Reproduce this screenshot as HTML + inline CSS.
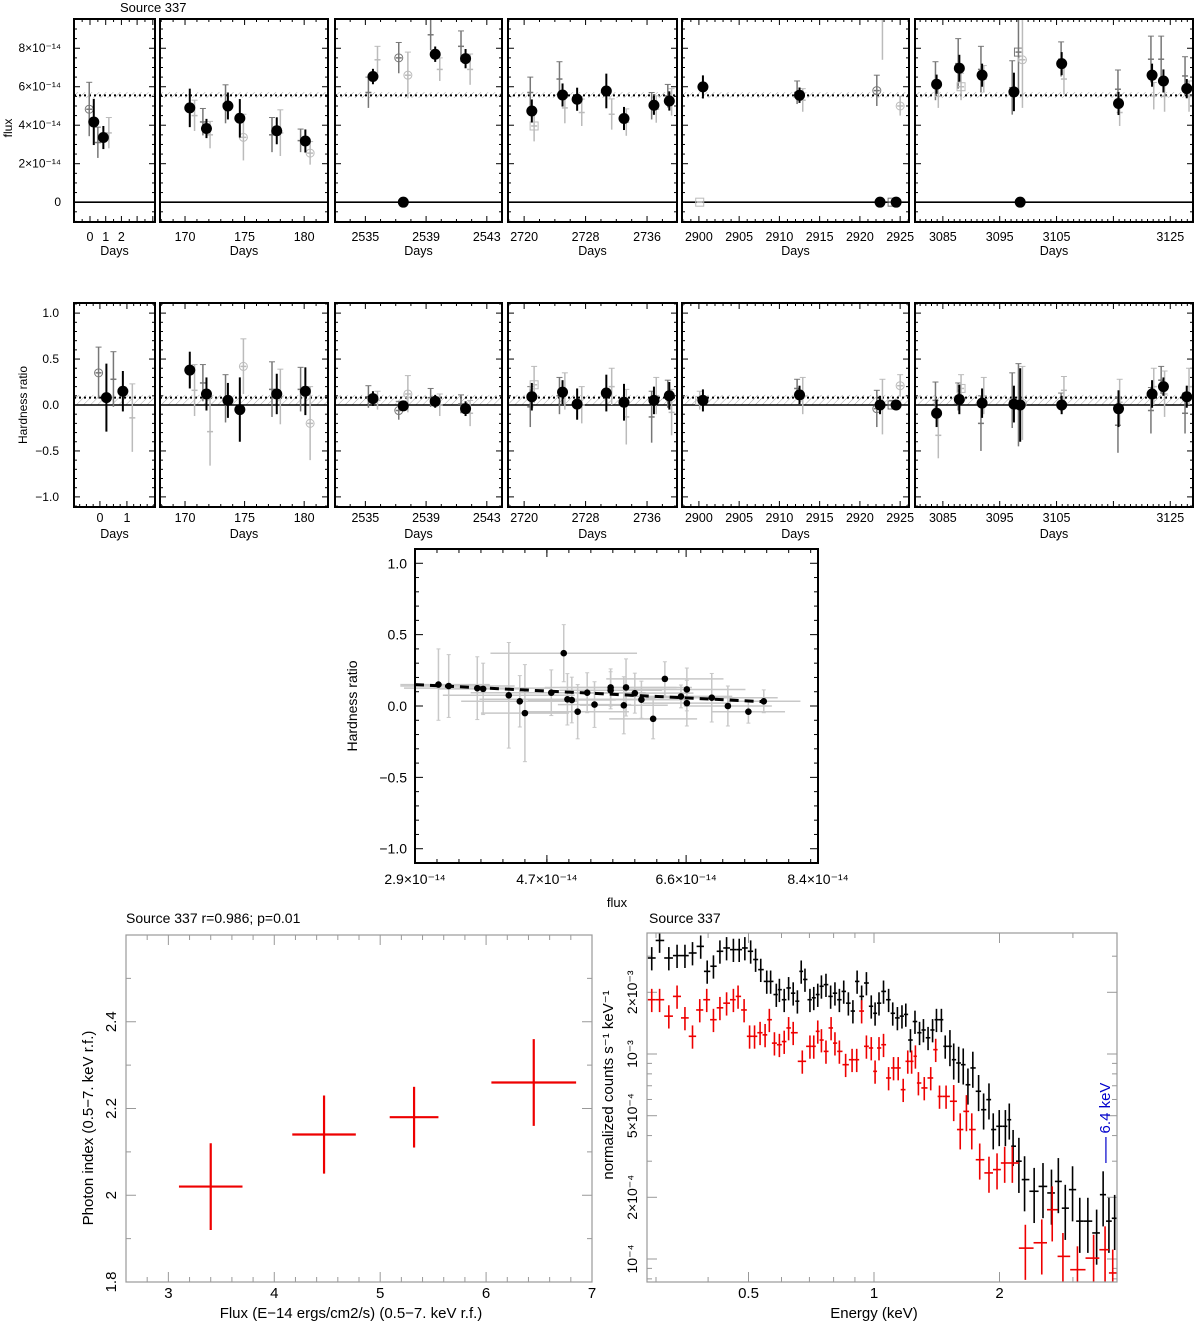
<!DOCTYPE html>
<html><head><meta charset="utf-8"><title>Source 337</title>
<style>html,body{margin:0;padding:0;background:#fff}svg{display:block;font-family:"Liberation Sans",sans-serif}</style>
</head><body>
<svg id="fig" xmlns="http://www.w3.org/2000/svg" width="1200" height="1327" viewBox="0 0 1200 1327">
<defs>
<pattern id="hatch" patternUnits="userSpaceOnUse" width="5" height="5" patternTransform="rotate(45)"><line x1="0" y1="0" x2="0" y2="5" stroke="#aaa" stroke-width="1"/></pattern>
</defs>
<text x="120" y="12" font-size="13">Source 337</text>
<text transform="translate(12,128) rotate(-90)" font-size="12" text-anchor="middle">flux</text>
<text transform="translate(27,405) rotate(-90)" font-size="12" text-anchor="middle">Hardness ratio</text>
</svg>
<script>
// ---------- light curve data (flux in 1e-14 units) ----------
const blackDays = [[0.24,0.85],[170.4,171.8,173.6,174.6,177.7,180.1],[2535.5,2537.5,2539.6,2541.6],[2721.0,2725.0,2726.9,2730.7,2733.0,2736.9,2738.9],[2900.5,2912.5,2922.5,2924.5],[3083.9,3087.9,3091.9,3097.5,3098.6,3105.9,3115.9,3121.8,3123.8,3127.9]];
const blackFlux = [[4.17,3.36],[4.90,3.83,5.0,4.36,3.71,3.18],[6.53,0,7.69,7.46],[4.74,5.57,5.35,5.78,4.35,5.04,5.26],[5.99,5.56,0,0],[6.13,6.96,6.6,5.73,0,7.2,5.13,6.6,6.3,5.9]];
const blackFluxErr = [[1.2,0.6],[1.0,0.5,0.7,1.0,0.7,0.6],[0.4,0,0.4,0.5],[0.6,0.6,0.6,0.9,0.6,0.5,0.5],[0.6,0.4,0,0],[0.5,0.7,0.6,1.0,0,0.6,0.6,0.6,0.6,0.5]];
const blackHR = [[0.08,0.15],[0.38,0.12,0.05,-0.05,0.12,0.15],[0.07,-0.01,0.04,-0.04],[0.09,0.14,0.01,0.13,0.03,0.05,0.1],[0.05,0.11,0,0],[-0.09,0.06,0.02,0.01,0,0,-0.04,0.12,0.2,0.09]];
const blackHRErr = [[0.37,0.22],[0.2,0.18,0.19,0.35,0.22,0.26],[0.08,0.05,0.07,0.08],[0.15,0.13,0.17,0.2,0.2,0.15,0.15],[0.12,0.1,0.1,0.05],[0.15,0.16,0.16,0.2,0.4,0.1,0.2,0.15,0.1,0.12]];
const grayDays = [[-0.05,0.5,1.2],[170.8,171.5,172.1,173.4,174.9,177.3,178.0,179.7,180.5],[2535.2,2535.8,2537.2,2537.8,2539.3,2539.9,2541.3,2541.9],[2720.8,2721.3,2724.6,2725.3,2727.5,2731.4,2733.3,2736.6,2737.2,2738.7,2739.2],[2900.1,2912.2,2912.9,2922.1,2922.8,2924.0,2925.0],[3083.7,3084.2,3087.7,3088.2,3091.7,3092.2,3097.2,3098.3,3099.0,3105.8,3106.3,3115.8,3116.1,3121.6,3122.1,3123.4,3124.0,3127.6,3128.3]];
const grayFlux = [[4.83,3.1,3.6],[4.5,4.17,3.5,5.1,3.37,3.5,3.6,3.2,2.55],[5.7,7.4,7.5,6.6,8.7,6.9,8.1,6.9],[5.7,3.96,6.4,4.9,4.66,4.57,4.15,5.0,4.83,5.52,5.2],[0,5.7,5.3,5.8,9.5,0,5.0],[6.3,5.5,7.2,6.0,6.9,6.4,5.95,7.8,7.4,7.43,6.4,5.87,4.66,7.43,5.52,7.43,5.5,6.56,5.5]];
const grayFluxErr = [[1.4,0.8,0.8],[0.8,0.7,0.7,1.0,1.2,0.9,1.2,0.6,0.6],[0.8,0.7,0.8,1.2,0.8,0.6,0.8,0.8],[0.8,0.8,0.9,0.8,0.7,0.8,0.7,0.7,0.7,0.6,0.7],[0,0.6,0.6,0.8,2.1,0,0.5],[1.0,0.6,1.3,0.7,1.2,0.7,1.4,2.0,2.5,0.9,0.8,1.0,0.7,1.2,0.7,1.2,0.8,1.0,0.8]];
const grayHR = [[0.35,0.28,-0.14],[0.16,0.24,-0.29,0.07,0.42,0.17,0.09,0.17,-0.2],[0.09,0.05,-0.06,0.12,0.08,0,0.01,-0.09],[-0.02,0.22,0.1,0.15,0.0,0.2,-0.13,-0.13,0.1,0.12,-0.08],[0.05,0.18,0.1,-0.04,-0.02,0,0.21],[0.05,-0.33,0.09,0.18,-0.2,0.1,0.05,0,0.02,0.03,0.16,-0.22,0.03,-0.06,0.2,0.27,0.12,-0.09,0.2]];
const grayHRErr = [[0.28,0.3,0.37],[0.28,0.2,0.37,0.26,0.3,0.3,0.3,0.24,0.4],[0.12,0.1,0.1,0.2,0.1,0.12,0.1,0.14],[0.22,0.2,0.2,0.2,0.2,0.2,0.3,0.28,0.2,0.15,0.25],[0.1,0.1,0.2,0.2,0.3,0.05,0.12],[0.2,0.25,0.15,0.15,0.3,0.2,0.3,0.45,0.4,0.1,0.15,0.3,0.25,0.25,0.2,0.15,0.25,0.22,0.2]];
const grayShade = [[1,1,2],[2,1,2,1,2,1,2,1,2],[1,2,1,2,1,2,1,2],[1,2,1,2,2,2,2,1,2,1,2],[2,1,2,1,2,1,2],[1,2,1,2,1,2,1,1,2,1,2,1,2,1,2,1,2,1,2]];
const grayMarker = [['o','+','+'],['+','+','+','+','o','+','+','+','o'],['+','+','o','o','+','+','+','+'],['+','s','+','+','+','+','+','+','+','+','+'],['s','+','+','o','+','s','o'],['+','+','+','s','+','+','+','s','o','+','+','+','+','+','+','+','+','+','+']];
const fluxMean = [5.55];
const hrMean = [0.08];
const fluxTicks = [0,2,4,6,8];
const fluxTickLabels = ['0','2×10⁻¹⁴','4×10⁻¹⁴','6×10⁻¹⁴','8×10⁻¹⁴'];
const hrTicks = [-1,-0.5,0,0.5,1];
const hrTickLabels = ['−1.0','−0.5','0.0','0.5','1.0'];
const panelMajors = [[0,1,2,3,4],[170,175,180],[2535,2539,2543],[2720,2728,2736],[2900,2905,2910,2915,2920,2925],[3085,3095,3105,3115,3125]];
const panelLabels = [['0','1','2','',''],['170','175','180'],['2535','2539','2543'],['2720','2728','2736'],['2900','2905','2910','2915','2920','2925'],['3085','3095','3105','','3125']];
const hrPanel1Majors = [0,1];

// ---------- HR vs flux scatter ----------
const scatFlux = [3.22,3.36,3.75,3.83,4.18,4.33,4.4,4.76,4.93,4.98,5.04,5.12,5.25,5.35,5.57,5.57,5.75,5.78,5.9,5.99,6.15,6.31,6.53,6.61,6.61,6.95,7.17,7.45,7.66];
const scatHR = [0.15,0.14,0.125,0.12,0.075,0.033,-0.05,0.093,0.37,0.047,0.042,-0.04,0.093,0.01,0.13,0.11,0.005,0.13,0.09,0.044,-0.09,0.19,0.067,0.116,0.02,0.058,0,-0.04,0.033];
const scatXErr = [0.7,0.9,1.0,0.6,0.9,0.8,0.6,1.1,1.0,1.2,0.6,0.7,0.8,0.5,0.9,0.7,0.6,0.9,0.8,0.6,0.6,0.8,0.7,0.8,0.6,0.9,0.6,0.5,0.5];
const scatYErr = [0.25,0.22,0.22,0.18,0.37,0.18,0.34,0.16,0.2,0.18,0.16,0.19,0.14,0.16,0.13,0.13,0.2,0.2,0.14,0.13,0.14,0.12,0.08,0.15,0.16,0.17,0.14,0.08,0.08];
const fitX = [2.9,7.66];
const fitY = [0.15,0.03];
const scatXTicks = [2.9,4.7,6.6,8.4];
const scatXLabels = ['2.9×10⁻¹⁴','4.7×10⁻¹⁴','6.6×10⁻¹⁴','8.4×10⁻¹⁴'];

// ---------- photon index vs flux ----------
const piFlux = [3.4,4.47,5.32,6.45];
const piFluxErr = [0.3,0.3,0.23,0.4];
const piIndex = [2.02,2.14,2.18,2.26];
const piIndexErr = [0.1,0.09,0.07,0.1];
const piXTicks = [3,4,5,6,7];
const piYTicks = [1.8,2,2.2,2.4];
const piYLabels = ['1.8','2','2.2','2.4'];

// ---------- spectrum (counts in 1e-3 units) ----------
const specEBlack = [0.293,0.306,0.322,0.337,0.352,0.367,0.384,0.398,0.412,0.427,0.443,0.460,0.475,0.490,0.506,0.520,0.535,0.553,0.565,0.583,0.593,0.609,0.624,0.640,0.655,0.669,0.683,0.702,0.717,0.733,0.748,0.767,0.787,0.806,0.826,0.846,0.868,0.890,0.911,0.934,0.959,0.985,1.006,1.028,1.054,1.084,1.109,1.138,1.167,1.192,1.223,1.254,1.286,1.314,1.348,1.382,1.412,1.451,1.482,1.521,1.553,1.596,1.637,1.680,1.726,1.782,1.832,1.887,1.932,1.997,2.066,2.111,2.156,2.226,2.297,2.422,2.543,2.665,2.768,2.876,2.994,3.116,3.258,3.420,3.545,3.660,3.778];
const specCBlack = [2.94,3.58,2.94,3.02,3.02,3.11,3.35,2.53,2.68,3.17,3.29,3.23,3.23,3.29,3.17,2.89,2.58,2.26,2.26,1.95,2.06,1.84,2.10,1.98,1.81,2.53,2.31,1.84,1.88,1.95,2.14,2.18,1.91,1.98,1.84,2.02,1.77,1.62,2.26,1.91,2.22,1.71,1.58,1.77,2.02,1.84,1.58,1.50,1.53,1.56,1.17,1.44,1.27,1.31,1.20,1.31,1.47,1.47,1.09,1.09,0.938,0.904,0.887,0.708,0.855,0.658,0.535,0.599,0.428,0.444,0.444,0.478,0.355,0.300,0.244,0.214,0.226,0.210,0.239,0.177,0.218,0.153,0.153,0.134,0.206,0.153,0.158];
const specERed = [0.293,0.306,0.322,0.337,0.352,0.367,0.382,0.397,0.412,0.427,0.443,0.460,0.472,0.488,0.503,0.517,0.533,0.548,0.561,0.577,0.593,0.609,0.624,0.640,0.673,0.702,0.717,0.733,0.748,0.767,0.789,0.806,0.826,0.855,0.886,0.909,0.934,0.959,0.985,1.006,1.028,1.054,1.084,1.114,1.143,1.175,1.205,1.231,1.257,1.278,1.320,1.368,1.406,1.436,1.489,1.553,1.610,1.666,1.716,1.793,1.887,1.973,2.058,2.147,2.307,2.526,2.676,2.839,3.076,3.363,3.583,3.738];
const specCRed = [1.84,1.84,1.53,1.91,1.50,1.22,1.64,1.84,1.47,1.68,1.77,1.84,1.91,1.64,1.22,1.22,1.27,1.24,1.47,1.13,1.11,1.15,1.34,1.27,0.921,1.09,1.09,1.29,1.17,1.03,1.34,1.13,1.03,0.887,0.938,0.938,1.62,1.09,1.07,0.823,1.07,1.11,0.764,0.855,0.855,0.670,0.921,0.921,0.975,0.722,0.683,0.764,1.05,0.621,0.621,0.588,0.428,0.525,0.428,0.305,0.263,0.273,0.294,0.294,0.113,0.120,0.174,0.103,0.0887,0.101,0.111,0.0855];
const specXTicks = [0.5,1,2];
const specYTicks = [2,1,0.5,0.2,0.1];
const specYLabels = ['2×10⁻³','10⁻³','5×10⁻⁴','2×10⁻⁴','10⁻⁴'];
const lineEnergy = [3.6];

const NS='http://www.w3.org/2000/svg';
const svg=document.getElementById('fig');
function mk(tag,parent){const e=document.createElementNS(NS,tag);(parent||svg).appendChild(e);return e;}
function ln(p,x1,y1,x2,y2,c,w,name,dash){const l=mk('line',p);l.setAttribute('x1',x1);l.setAttribute('y1',y1);l.setAttribute('x2',x2);l.setAttribute('y2',y2);l.setAttribute('stroke',c);l.setAttribute('stroke-width',w);if(dash)l.setAttribute('stroke-dasharray',dash);


return l;}
function tx(p,x,y,s,size,anchor,name,fill,rot){const t=mk('text',p);t.textContent=s;t.setAttribute('font-size',size);t.setAttribute('text-anchor',anchor||'middle');if(fill)t.setAttribute('fill',fill);
if(rot){t.setAttribute('transform','translate('+x+','+y+') rotate(-90)');}else{t.setAttribute('x',x);t.setAttribute('y',y);}


return t;}
function grp(name){const g=mk('g');


return g;}

const boxX=[[74,155],[160,328],[335,502],[508,677],[682,909],[915,1193]];
const domX=[[-1.02,4.14],[167.9,182.0],[2533.0,2544.0],[2717.9,2739.9],[2897.9,2926.1],[3080.1,3129.0]];
const hrDom1=[-0.96,2.04];
const minorStep=[0.5,1,1,2,1,1];
const rows=[{name:'flux',top:19,bot:222,ymin:-1.03,ymax:9.52,ticks:fluxTicks,labels:fluxTickLabels,minor:0.5,vals:blackFlux,errs:blackFluxErr,gv:grayFlux,ge:grayFluxErr,mean:fluxMean[0],band:[5.42,5.72],lab:241,days:255},
{name:'hardness',top:303,bot:507,ymin:-1.11,ymax:1.11,ticks:hrTicks,labels:hrTickLabels,minor:0.1,vals:blackHR,errs:blackHRErr,gv:grayHR,ge:grayHRErr,mean:hrMean[0],band:[0,0.11],lab:522,days:538}];

rows.forEach((r,ri)=>{
 const Y=v=>r.bot-(v-r.ymin)/(r.ymax-r.ymin)*(r.bot-r.top);
 boxX.forEach((bx,pi)=>{
  const g=grp(r.name+'-panel-'+(pi+1));
  let d=domX[pi]; let majors=panelMajors[pi], labs=panelLabels[pi], mstep=minorStep[pi];
  if(ri===1&&pi===0){d=hrDom1;majors=hrPanel1Majors;labs=['0','1'];mstep=0.25;}
  const X=v=>bx[0]+(v-d[0])/(d[1]-d[0])*(bx[1]-bx[0]);
  const br=mk('rect',g);br.setAttribute('x',bx[0]);br.setAttribute('width',bx[1]-bx[0]);br.setAttribute('y',Y(r.band[1]));br.setAttribute('height',Y(r.band[0])-Y(r.band[1]));br.setAttribute('fill','url(#hatch)');
  
  
  ln(g,bx[0],Y(r.mean),bx[1],Y(r.mean),'#000',2,'mean-line','2,3');
  ln(g,bx[0],Y(0),bx[1],Y(0),'#000',1.6,'zero-line');
  for(let v=Math.ceil(r.ymin/r.minor)*r.minor;v<=r.ymax;v+=r.minor){const isMaj=r.ticks.some(t=>Math.abs(t-v)<1e-6);const L=isMaj?6:3;const y=Y(v);
   ln(g,bx[0],y,bx[0]+L,y,'#000',1,'y-tick');ln(g,bx[1],y,bx[1]-L,y,'#000',1,'y-tick');}
  if(pi===0){r.ticks.forEach((t,i)=>tx(g,r.name==='flux'?61:59,Y(t)+4,r.labels[i],12,'end','y-tick-label'));}
  for(let v=Math.ceil(d[0]/mstep)*mstep;v<=d[1];v+=mstep){const isMaj=majors.some(t=>Math.abs(t-v)<1e-6);const L=isMaj?6:3;const x=X(v);
   ln(g,x,r.bot,x,r.bot-L,'#000',1,'x-tick');ln(g,x,r.top,x,r.top+L,'#000',1,'x-tick');}
  majors.forEach((t,i)=>{if(labs[i])tx(g,X(t),r.lab,labs[i],12.5,'middle','x-tick-label');});
  tx(g,(bx[0]+bx[1])/2,r.days,'Days',12.5,'middle','x-axis-title');
  grayDays[pi].forEach((dd,i)=>{const c=grayShade[pi][i]===1?'#777':'#bbb';const x=X(dd);const v=r.gv[pi][i],e=r.ge[pi][i];
   const y=Math.max(r.top,Math.min(r.bot,Y(v)));
   ln(g,x,Math.max(r.top,Y(v+e)),x,Math.min(r.bot,Y(v-e)),c,1.5,'gray-error-bar');
   ln(g,x-3,Math.max(r.top,Y(v+e)),x+3,Math.max(r.top,Y(v+e)),c,1,'gray-error-cap');
   ln(g,x-3,y,x+3,y,c,1.5,'gray-point');
   const m=grayMarker[pi][i];
   if(m==='o'){const ci=mk('circle',g);ci.setAttribute('cx',x);ci.setAttribute('cy',y);ci.setAttribute('r',4);ci.setAttribute('fill','none');ci.setAttribute('stroke',c);
    
    }
   if(m==='s'){const sq=mk('rect',g);sq.setAttribute('x',x-4);sq.setAttribute('y',y-4);sq.setAttribute('width',8);sq.setAttribute('height',8);sq.setAttribute('fill','none');sq.setAttribute('stroke',c);
    
    }
  });
  blackDays[pi].forEach((dd,i)=>{const x=X(dd),v=r.vals[pi][i],e=r.errs[pi][i];
   if(e>0)ln(g,x,Y(v+e),x,Y(v-e),'#000',2,'error-bar');
   const ci=mk('circle',g);ci.setAttribute('cx',x);ci.setAttribute('cy',Y(v));ci.setAttribute('r',5.5);ci.setAttribute('fill','#000');
   
   
  });
  const fr=mk('rect',g);fr.setAttribute('x',bx[0]);fr.setAttribute('y',r.top);fr.setAttribute('width',bx[1]-bx[0]);fr.setAttribute('height',r.bot-r.top);fr.setAttribute('fill','none');fr.setAttribute('stroke','#000');fr.setAttribute('stroke-width',2);
  
  
 });
});

(function(){
 const g=grp('hardness-vs-flux-panel');
 const L=415,R=818,T=549,B=863,xmin=2.9,xmax=8.4,ymin=-1.1,ymax=1.1;
 const X=v=>L+(v-xmin)/(xmax-xmin)*(R-L), Y=v=>B-(v-ymin)/(ymax-ymin)*(B-T);
 scatFlux.forEach((f,i)=>{
  ln(g,X(Math.max(xmin-0.2,f-scatXErr[i])),Y(scatHR[i]),X(Math.min(xmax,f+scatXErr[i])),Y(scatHR[i]),'#c8c8c8',1.5,'x-error-bar');
  ln(g,X(f),Y(scatHR[i]+scatYErr[i]),X(f),Y(scatHR[i]-scatYErr[i]),'#c8c8c8',1.5,'y-error-bar');
  ln(g,X(f)-2,Y(scatHR[i]+scatYErr[i]),X(f)+2,Y(scatHR[i]+scatYErr[i]),'#c8c8c8',1,'error-cap');
  ln(g,X(f)-2,Y(scatHR[i]-scatYErr[i]),X(f)+2,Y(scatHR[i]-scatYErr[i]),'#c8c8c8',1,'error-cap');
 });
 ln(g,X(fitX[0]),Y(fitY[0]),X(fitX[1]),Y(fitY[1]),'#000',3,'fit-line','9,6');
 scatFlux.forEach((f,i)=>{const c=mk('circle',g);c.setAttribute('cx',X(f));c.setAttribute('cy',Y(scatHR[i]));c.setAttribute('r',3.3);c.setAttribute('fill','#000');
  
  });
 for(let v=-1.1;v<=1.1001;v+=0.1){const maj=Math.abs(v*2-Math.round(v*2))<1e-6;ln(g,L,Y(v),L+(maj?8:4),Y(v),'#000',1,'y-tick');ln(g,R,Y(v),R-(maj?8:4),Y(v),'#000',1,'y-tick');}
 hrTicks.forEach((t,i)=>tx(g,L-8,Y(t)+5,hrTickLabels[i],14,'end','y-tick-label'));
 scatXTicks.forEach((t,i)=>{ln(g,X(t),B,X(t),B-8,'#000',1,'x-tick');ln(g,X(t),T,X(t),T+8,'#000',1,'x-tick');tx(g,X(t),884,scatXLabels[i],14,'middle','x-tick-label');});
 for(let v=xmin;v<=xmax;v+=0.3){ln(g,X(v),B,X(v),B-4,'#000',1,'x-minor-tick');ln(g,X(v),T,X(v),T+4,'#000',1,'x-minor-tick');}
 tx(g,617,907,'flux',13,'middle','x-axis-title');
 tx(g,357,706,'Hardness ratio',14,'middle','y-axis-title',null,true);
 const fr=mk('rect',g);fr.setAttribute('x',L);fr.setAttribute('y',T);fr.setAttribute('width',R-L);fr.setAttribute('height',B-T);fr.setAttribute('fill','none');fr.setAttribute('stroke','#000');fr.setAttribute('stroke-width',2);
 
 
})();

(function(){
 const g=grp('photon-index-panel');
 const L=126,R=592,T=935,B=1282,xmin=2.6,xmax=7,ymin=1.8,ymax=2.6;
 const X=v=>L+(v-xmin)/(xmax-xmin)*(R-L), Y=v=>B-(v-ymin)/(ymax-ymin)*(B-T);
 for(let v=2.6;v<=7.0001;v+=0.2){const maj=piXTicks.some(t=>Math.abs(t-v)<1e-6);ln(g,X(v),B,X(v),B-(maj?10:5),'#999',1,'x-tick');ln(g,X(v),T,X(v),T+(maj?10:5),'#999',1,'x-tick');}
 for(let v=1.8;v<=2.6001;v+=0.1){const maj=piYTicks.some(t=>Math.abs(t-v)<1e-6);ln(g,L,Y(v),L+(maj?10:5),Y(v),'#999',1,'y-tick');ln(g,R,Y(v),R-(maj?10:5),Y(v),'#999',1,'y-tick');}
 piXTicks.forEach(t=>tx(g,X(t),1298,String(t),15,'middle','x-tick-label'));
 piYTicks.forEach((t,i)=>tx(g,116,Y(t),piYLabels[i],15,'middle','y-tick-label',null,true));
 piFlux.forEach((f,i)=>{
  ln(g,X(f-piFluxErr[i]),Y(piIndex[i]),X(f+piFluxErr[i]),Y(piIndex[i]),'#e00',2.2,'x-error-bar');
  ln(g,X(f),Y(piIndex[i]+piIndexErr[i]),X(f),Y(piIndex[i]-piIndexErr[i]),'#e00',2.2,'y-error-bar');
 });
 tx(g,126,923,'Source 337  r=0.986; p=0.01',14,'start','panel-title');
 tx(g,351,1318,'Flux (E−14 ergs/cm2/s) (0.5−7. keV r.f.)',15,'middle','x-axis-title');
 tx(g,93,1128,'Photon index (0.5−7. keV r.f.)',15,'middle','y-axis-title',null,true);
 const fr=mk('rect',g);fr.setAttribute('x',L);fr.setAttribute('y',T);fr.setAttribute('width',R-L);fr.setAttribute('height',B-T);fr.setAttribute('fill','none');fr.setAttribute('stroke','#999');fr.setAttribute('stroke-width',1.2);
 
 
})();

(function(){
 const g=grp('spectrum-panel');
 const L=647,R=1117,T=933,B=1282;
 const X=e=>874+125.5*Math.log2(e), Y=c=>1054-205*Math.log10(c);
 [0.3,0.4,0.5,0.6,0.7,0.8,0.9,1,2,3].forEach(v=>{const maj=specXTicks.includes(v);ln(g,X(v),B,X(v),B-(maj?10:5),'#999',1,'x-tick');ln(g,X(v),T,X(v),T+(maj?10:5),'#999',1,'x-tick');});
 [0.08,0.09,0.1,0.2,0.3,0.4,0.5,0.6,0.7,0.8,0.9,1,2,3].forEach(v=>{const maj=specYTicks.includes(v);ln(g,L,Y(v),L+(maj?10:5),Y(v),'#999',1,'y-tick');ln(g,R,Y(v),R-(maj?10:5),Y(v),'#999',1,'y-tick');});
 specXTicks.forEach(t=>tx(g,X(t),1298,String(t),15,'middle','x-tick-label'));
 specYTicks.forEach((t,i)=>tx(g,637,Y(t),specYLabels[i],14,'middle','y-tick-label',null,true));
 function series(E,C,col,name){E.forEach((e,i)=>{
   const lo=i>0?Math.sqrt(E[i-1]*e):e/Math.sqrt(E[1]/E[0]); const hi=i<E.length-1?Math.sqrt(E[i+1]*e):e*Math.sqrt(e/E[i-1]);
   const rel=e<1.5?0.13:(e<2.2?0.2:0.3);
   const x1=Math.max(L,X(lo)),x2=Math.min(R,X(hi)),y=Y(C[i]);
   if(y>B+2)return;
   ln(g,x1,y,x2,y,col,1.6,name+'-x-bar');
   ln(g,X(e),Math.max(T,Y(C[i]*(1+rel))),X(e),Math.min(B,Y(C[i]*(1-rel))),col,1.6,name+'-y-bar');
 });}
 series(specEBlack,specCBlack,'#000','black-spectrum');
 series(specERed,specCRed,'#e00','red-spectrum');
 ln(g,X(lineEnergy[0]),1137,X(lineEnergy[0]),1163,'#00c',1.2,'fe-line-marker');
 tx(g,X(lineEnergy[0])+4,1108,'6.4 keV',15,'middle','fe-line-label','#00c',true);
 tx(g,649,923,'Source 337',14,'start','panel-title');
 tx(g,874,1318,'Energy (keV)',15,'middle','x-axis-title');
 tx(g,613,1085,'normalized counts s⁻¹ keV⁻¹',15,'middle','y-axis-title',null,true);
 const fr=mk('rect',g);fr.setAttribute('x',L);fr.setAttribute('y',T);fr.setAttribute('width',R-L);fr.setAttribute('height',B-T);fr.setAttribute('fill','none');fr.setAttribute('stroke','#999');fr.setAttribute('stroke-width',1.2);
 
 
})();
</script>
</body></html>
